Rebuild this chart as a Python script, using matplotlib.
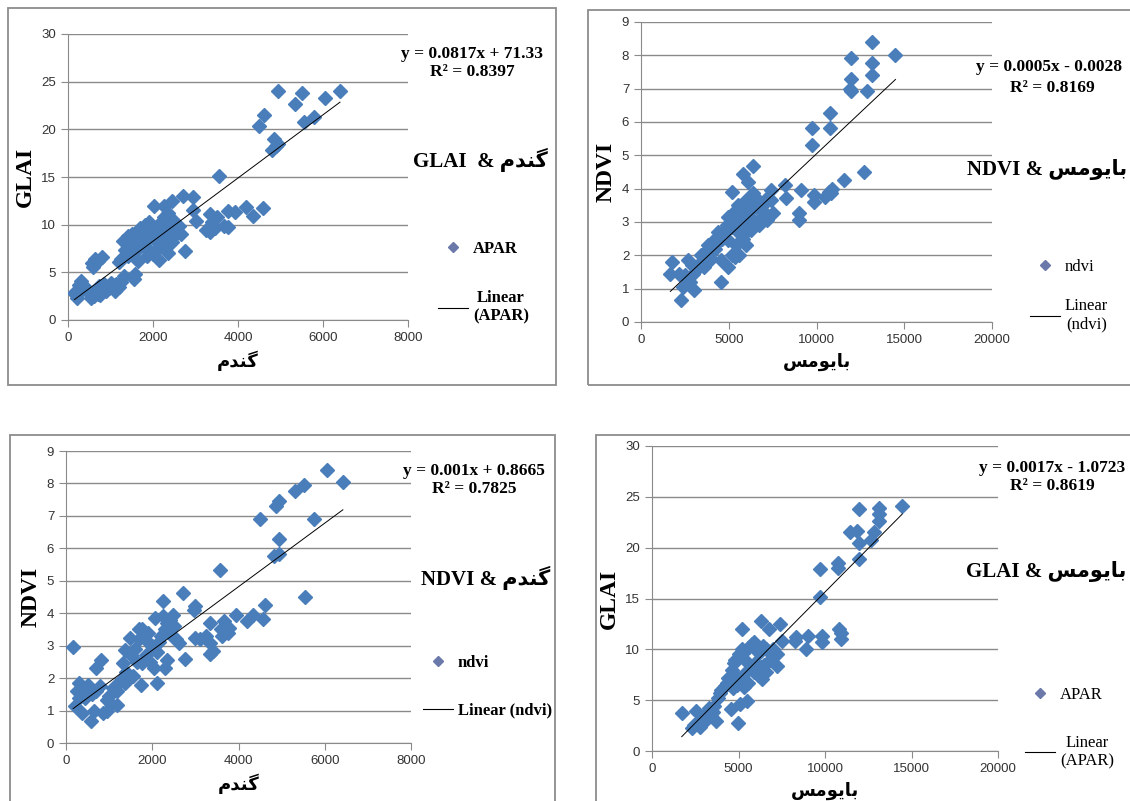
import numpy as np
import matplotlib
matplotlib.use("Agg")
import matplotlib.pyplot as plt
from matplotlib.patches import Rectangle
from matplotlib.lines import Line2D

# Persian words, pre-shaped (presentation forms, visual order) since matplotlib has no bidi/shaping
WHEAT = "\uFEE1\uFEAA\uFEE8\uFB94"              # گندم
BIOMASS = "\uFEB2\uFEE3\uFEEE\uFBFE\uFE8E\uFE91"  # بایومس

# ---- panel 1 : wheat vs GLAI ----
wheat_p1 = [6400, 4950, 5500, 5350, 6050, 5550, 5780, 4600, 4490, 4850, 4900, 4810, 4950, 3560,
            4580, 4350, 4180, 3940, 3760, 3670, 3760, 3500, 3330, 3380, 3250, 3350, 3450, 3000,
            2950, 2950, 2700, 2450, 2250, 2030, 2750,
            1300, 1400, 1500, 1600, 1700, 1800, 1900, 1950, 2050, 2150, 2250, 2350, 2450, 2550,
            2600, 2400, 2300, 2200, 2100, 2000, 1900, 1800, 1700, 1650, 1850, 2150, 2350, 2450,
            2250, 2050, 1950, 1850, 1750, 1550, 1450, 1350, 1250, 1200, 1400, 1600, 2500, 2650,
            2200, 2100, 1800,
            1580, 1560, 1310, 1250, 1140, 1050, 970, 900, 800, 720, 650, 600, 550, 500, 420, 300,
            250, 220, 150, 350, 700, 850, 1000, 1200, 450, 750, 1100,
            800, 640, 580, 560, 700]
glai_p1 = [24.0, 24.0, 23.8, 22.7, 23.3, 20.8, 21.3, 21.5, 20.3, 19.0, 18.2, 17.8, 18.5, 15.1,
           11.7, 10.9, 11.9, 11.3, 11.4, 9.9, 9.8, 10.8, 11.1, 10.3, 9.4, 9.2, 9.7, 10.4,
           11.5, 12.9, 13.0, 12.5, 12.0, 12.0, 7.2,
           8.3, 8.8, 9.0, 8.7, 9.6, 10.0, 10.3, 9.7, 9.5, 10.1, 10.8, 11.2, 10.6, 9.4,
           9.9, 9.9, 8.5, 7.9, 7.4, 6.9, 7.3, 7.7, 8.0, 6.2, 6.7, 6.3, 7.0, 8.2,
           9.3, 8.4, 8.9, 8.9, 9.2, 8.1, 7.7, 7.3, 6.4, 6.1, 6.7, 7.2, 8.8, 9.0,
           8.6, 9.0, 8.2,
           4.8, 4.3, 4.6, 4.0, 3.8, 3.7, 3.4, 3.0, 3.2, 3.6, 2.9, 2.5, 2.3, 2.8, 3.4, 4.1,
           3.7, 2.3, 2.8, 3.3, 2.7, 3.8, 3.9, 3.5, 3.1, 2.6, 3.0,
           6.6, 6.4, 5.6, 6.0, 6.2]

# ---- panel 2 : biomass vs NDVI ----
bio_p2 = [13150, 14500, 11950, 13150, 13150, 11950, 11950, 12880, 11900, 10750, 10750, 9720, 9720,
          12700, 11550, 10900, 10800, 10500, 10700, 9880, 9880, 9100, 9020, 9020, 8280, 8180, 7400,
          7400, 7500, 7200, 7000, 6950,
          6370, 5800, 6070, 5210, 6400, 5970, 5780, 6570, 6870, 4970, 5370, 5570, 6270, 5970, 5370,
          4970, 4570, 4530, 4170, 4570, 3770, 3370, 2970, 2670, 3010, 2265, 1760, 1670, 2670, 2165,
          2365, 3570, 3970, 4970, 5170, 5770,
          5100, 5300, 5500, 5700, 5900, 6100, 6300, 6500, 6700, 4800, 4600, 4400, 4200, 4000, 3600,
          3200, 2900, 2500, 5400, 5200, 5600, 5800, 6000, 6600, 6800, 7100, 4400, 4900, 3800, 3400,
          2800, 6200]
ndvi_p2 = [8.40, 8.02, 7.92, 7.78, 7.40, 7.30, 6.92, 6.92, 7.00, 6.27, 5.82, 5.82, 5.32,
           4.51, 4.27, 4.00, 3.86, 3.76, 3.90, 3.80, 3.60, 3.96, 3.26, 3.06, 3.71, 4.11, 3.96,
           3.66, 3.26, 3.06, 3.30, 3.50,
           4.68, 4.45, 4.20, 3.91, 3.86, 3.66, 3.46, 3.46, 3.16, 3.16, 3.06, 2.66, 2.76, 2.31, 1.96,
           1.65, 1.86, 1.20, 2.46, 2.66, 2.16, 1.76, 1.45, 1.25, 0.95, 0.65, 1.80, 1.45, 1.86, 1.45,
           1.05, 1.65, 2.06, 2.46, 2.86, 2.86,
           3.0, 3.3, 3.5, 3.2, 3.0, 3.3, 3.1, 3.0, 2.9, 2.7, 2.5, 2.4, 2.2, 1.9, 1.9,
           1.6, 1.7, 1.4, 2.3, 2.0, 2.0, 2.5, 2.7, 3.7, 3.4, 3.7, 2.7, 2.9, 2.3, 2.0,
           1.2, 3.5]

# ---- panel 3 : wheat vs NDVI ----
wheat_p3 = [6050, 6420, 5310, 5510, 4940, 4860, 4510, 5760, 4940, 4815, 4940, 3565, 5540, 4610,
            4570, 4340, 4200, 3950, 3790, 3660, 3620, 3330, 3330, 3400, 3330, 2990, 2990, 2960,
            2720, 2260, 2470, 2350, 2630, 2770, 2300, 2350, 2100, 2060, 1770, 1930, 1770, 1750,
            1560, 1480, 1360, 1320, 1360, 1190, 1190, 990, 860, 820, 700, 580, 660, 540, 290,
            165, 210, 450, 370, 780, 950, 370,
            1500, 1600, 1700, 1800, 1900, 2000, 2100, 2200, 2300, 2400, 2500, 2150, 1850, 1950,
            2050, 1650, 1400, 1250, 1100, 1050, 950, 600, 500, 400, 300, 250, 700, 2250, 1700,
            2450, 2550, 3600, 3750, 3250, 3100]
ndvi_p3 = [8.42, 8.03, 7.77, 7.94, 7.46, 7.31, 6.89, 6.91, 6.28, 5.76, 5.81, 5.32, 4.51, 4.25,
           3.83, 3.96, 3.76, 3.96, 3.55, 3.76, 3.29, 3.70, 3.09, 2.83, 2.73, 3.24, 4.22, 4.10,
           4.63, 4.37, 3.96, 3.70, 3.09, 2.59, 2.32, 2.57, 1.85, 3.86, 3.50, 3.09, 2.47, 1.80,
           2.06, 3.24, 2.88, 2.47, 1.85, 1.59, 1.18, 1.44, 0.93, 2.57, 2.32, 0.67, 0.98, 1.70, 1.85,
           2.96, 1.13, 1.39, 0.93, 1.75, 1.34, 1.54,
           2.7, 2.9, 3.2, 3.3, 3.4, 3.0, 2.8, 3.3, 3.5, 3.8, 3.6, 3.1, 2.7, 2.5,
           2.3, 2.5, 2.2, 1.9, 1.7, 1.2, 1.0, 1.5, 1.8, 1.6, 1.4, 1.6, 1.6, 3.9, 3.5,
           3.3, 3.2, 3.5, 3.4, 3.3, 3.2]

# ---- panel 4 : biomass vs GLAI ----
bio_p4 = [14470, 13150, 13150, 13150, 11940, 11440, 11840, 11940, 12850, 12650, 11980, 10730, 10730,
          9720, 9720, 10830, 10930, 10950, 9820, 9820, 9010, 8910, 8300, 8250, 7390, 7490, 7250,
          6780, 6275, 5200, 5870, 4960, 5465, 5060, 4550, 1720, 2530, 2330, 2930, 3540, 3950, 4350,
          4760, 5160, 5970, 6380, 5570, 5360, 4860,
          4600, 4800, 5000, 5200, 5400, 5600, 5800, 6000, 6200, 6400, 6600, 6800, 7000, 7200, 5500,
          5700, 5900, 6100, 6300, 6500, 4400, 4200, 4000, 3800, 3600, 3400, 3200, 3000, 2700, 2400,
          5300, 5100, 4900, 4700, 6600, 3300, 3700, 2800]
glai_p4 = [24.1, 23.9, 23.3, 22.6, 23.8, 21.5, 21.6, 20.5, 21.5, 20.8, 18.9, 18.5, 18.0,
           17.9, 15.1, 12.0, 11.0, 11.6, 11.3, 10.7, 11.3, 10.0, 11.2, 10.8, 12.5, 10.8, 8.4,
           12.0, 12.8, 12.0, 10.7, 2.8, 4.9, 4.6, 4.1, 3.7, 3.9, 2.3, 2.8, 3.8, 5.7, 6.7,
           8.7, 9.3, 8.7, 7.1, 6.7, 7.7, 7.4,
           8.0, 9.0, 9.5, 10.0, 9.8, 10.2, 10.5, 10.0, 9.6, 10.3, 10.0, 9.0, 10.0, 9.5, 8.8,
           8.2, 7.8, 7.5, 8.3, 8.5, 7.2, 6.4, 6.0, 5.2, 4.4, 3.6, 3.2, 3.5, 3.0, 2.6,
           6.3, 7.0, 6.5, 6.2, 7.8, 4.2, 3.0, 2.4]

W, H = 1130, 801
BLUE = "#4a7ebb"
SERIF = ["Liberation Serif", "DejaVu Sans"]

fig = plt.figure(figsize=(W / 100, H / 100), dpi=100)
fig.patch.set_facecolor("white")


def fx(px):
    return px / W


def fy(py):
    return 1 - py / H


def frame(x0, y0, x1, y1):
    fig.add_artist(Rectangle((fx(x0), fy(y1)), fx(x1 - x0), (y1 - y0) / H,
                             transform=fig.transFigure, fill=False,
                             edgecolor="#8c8c8c", lw=1.3))


def panel(rect, xs, ys, xmax, xstep, ymax, ystep, ylabel, xlabel):
    l, r, t, b = rect
    ax = fig.add_axes([fx(l), fy(b), fx(r - l), (b - t) / H])
    ax.plot(xs, ys, ls="none", marker="D", ms=7.5, color=BLUE, mec=BLUE, zorder=3)
    k, c = np.polyfit(xs, ys, 1)
    lx = np.array([min(xs), max(xs)])
    ax.plot(lx, k * lx + c, color="black", lw=0.7, zorder=4)
    ax.set_xlim(0, xmax)
    ax.set_ylim(0, ymax)
    ax.set_xticks(np.arange(0, xmax + 1, xstep))
    ax.set_yticks(np.arange(0, ymax + 0.01, ystep))
    ax.yaxis.grid(True, color="#8a8a8a", lw=1.0)
    ax.set_axisbelow(True)
    for s in ["top", "right"]:
        ax.spines[s].set_visible(False)
    for s in ["left", "bottom"]:
        ax.spines[s].set_color("#8a8a8a")
    ax.tick_params(colors="#8a8a8a", labelcolor="#333333", length=5, labelsize=9.5)
    for lab in ax.get_xticklabels() + ax.get_yticklabels():
        lab.set_family("Liberation Sans")
    ax.set_ylabel(ylabel, family=SERIF, weight="bold", fontsize=17, labelpad=4)
    ax.set_xlabel(xlabel, family=["DejaVu Sans"], weight="bold", fontsize=13, labelpad=5)
    return ax


# frames
frame(8, 8, 556, 385)
frame(588, 10, 1136, 385)
frame(10, 435, 555, 806)
frame(596, 435, 1136, 806)

ax1 = panel((68, 408, 34, 320), wheat_p1, glai_p1, 8000, 2000, 30, 5, "GLAI", WHEAT)
ax2 = panel((641, 992, 22, 322), bio_p2, ndvi_p2, 20000, 5000, 9, 1, "NDVI", BIOMASS)
ax3 = panel((66, 411, 451, 743), wheat_p3, ndvi_p3, 8000, 2000, 9, 1, "NDVI", WHEAT)
ax4 = panel((652, 998, 446, 751), bio_p4, glai_p4, 20000, 5000, 30, 5, "GLAI", BIOMASS)

# equations
eq_kw = dict(family=SERIF, weight="bold", fontsize=12.5)
fig.text(fx(472), fy(63), "y = 0.0817x + 71.33\nR\u00b2 = 0.8397", ha="center", va="center",
         multialignment="center", **eq_kw)
fig.text(fx(976), fy(67), "y = 0.0005x - 0.0028", ha="left", va="center", **eq_kw)
fig.text(fx(1052), fy(88), "R\u00b2 = 0.8169", ha="center", va="center", **eq_kw)
fig.text(fx(474), fy(480), "y = 0.001x + 0.8665\nR\u00b2 = 0.7825", ha="center", va="center",
         multialignment="center", **eq_kw)
fig.text(fx(1052), fy(477), "y = 0.0017x - 1.0723\nR\u00b2 = 0.8619", ha="center", va="center",
         multialignment="center", **eq_kw)

# titles
tt_kw = dict(family=SERIF, weight="bold", fontsize=15, va="center")
fig.text(fx(480), fy(160), "GLAI  & " + WHEAT, ha="center", **tt_kw)
fig.text(fx(1127), fy(170), "NDVI & " + BIOMASS, ha="right", **tt_kw)
fig.text(fx(486), fy(578), "NDVI & " + WHEAT, ha="center", **tt_kw)
fig.text(fx(1126), fy(572), "GLAI & " + BIOMASS, ha="right", **tt_kw)


def legend(ax, name, x, y, bold, split, spacing):
    h = [Line2D([], [], ls="none", marker="D", ms=5, color="#6a78aa"),
         Line2D([], [], color="black", lw=0.8)]
    lin = "Linear\n(" + name + ")" if split else "Linear (" + name + ")"
    leg = ax.legend(h, [name, lin], loc="upper left", bbox_to_anchor=(fx(x), fy(y)),
                    bbox_transform=fig.transFigure, frameon=False, handlelength=1.8,
                    handletextpad=0.3, labelspacing=spacing,
                    prop=dict(family=SERIF, weight="bold" if bold else "normal", size=12))
    for t in leg.get_texts():
        t.set_multialignment("center")


legend(ax1, "APAR", 423, 226, True, True, 2.0)
legend(ax2, "ndvi", 1015, 244, False, True, 1.4)
legend(ax3, "ndvi", 408, 640, True, False, 1.9)
legend(ax4, "APAR", 1010, 672, False, True, 1.9)

fig.savefig("out.png", dpi=100)
